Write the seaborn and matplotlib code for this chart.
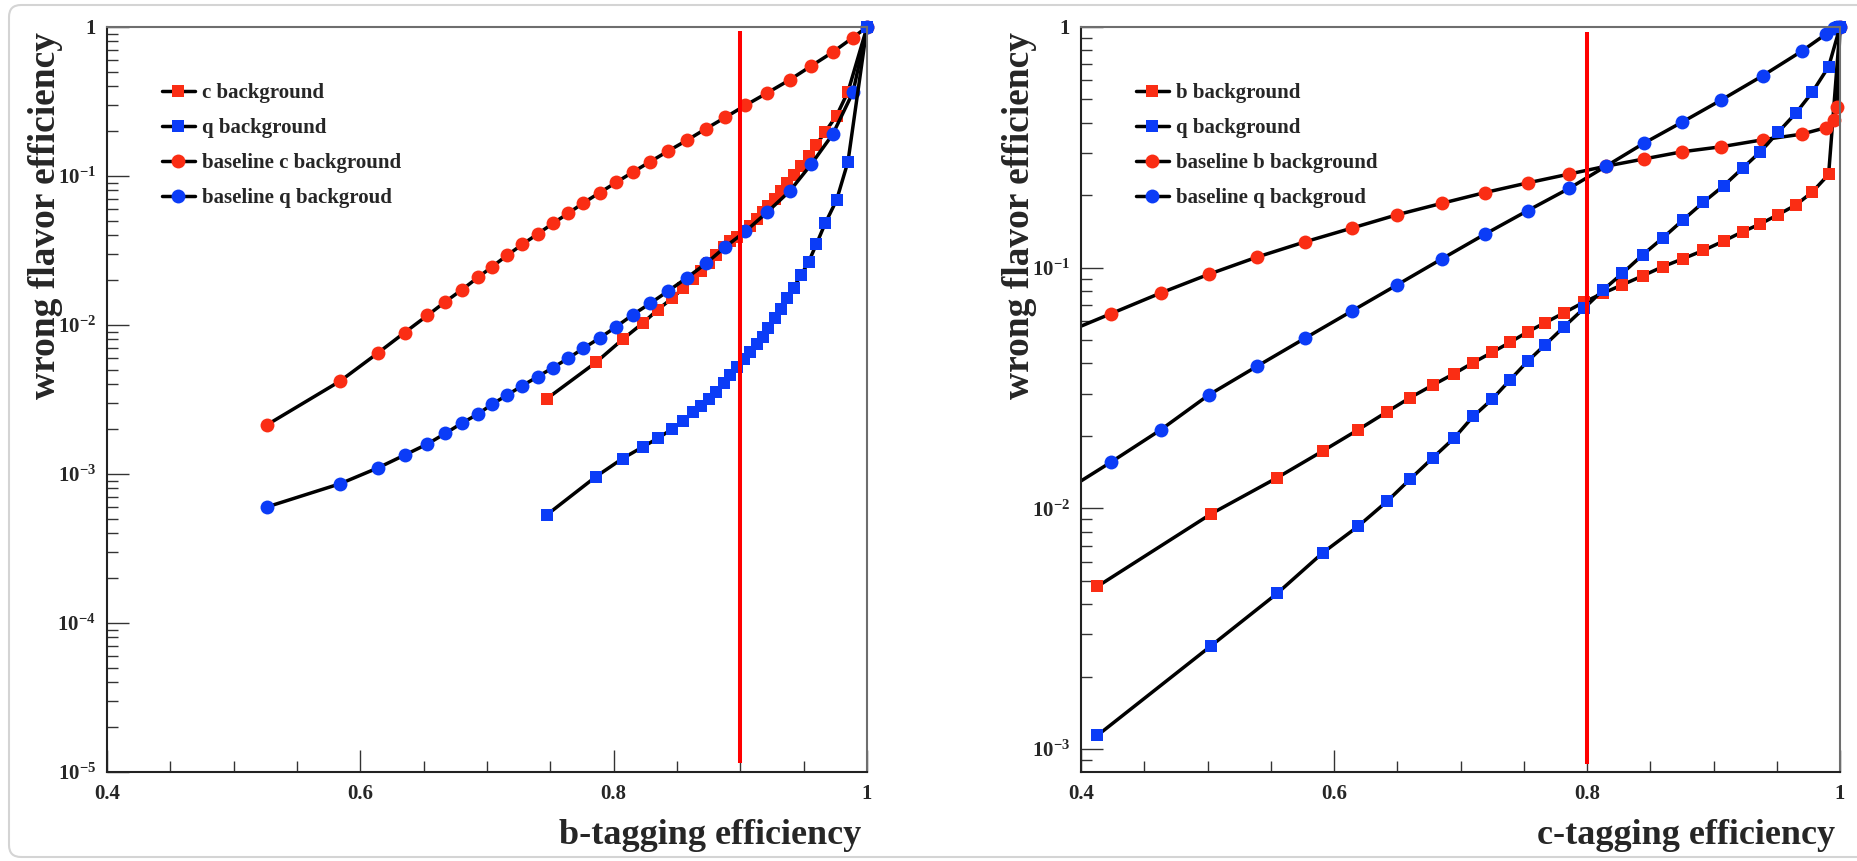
import matplotlib
matplotlib.use("Agg")
import matplotlib.pyplot as plt
import seaborn as sns
from matplotlib.ticker import FixedLocator, FixedFormatter, NullFormatter, MultipleLocator, LogLocator
from matplotlib.patches import FancyBboxPatch, Rectangle
from matplotlib.transforms import IdentityTransform

# ---------------- data: left panel (b-tagging) ----------------
b_eff_new = [0.747, 0.786, 0.807, 0.823, 0.835, 0.846, 0.855, 0.863, 0.869, 0.875,
             0.881, 0.887, 0.892, 0.897, 0.903, 0.908, 0.913, 0.918, 0.922, 0.927,
             0.932, 0.937, 0.942, 0.948, 0.954, 0.960, 0.967, 0.976, 0.985, 1.0]
c_bkg_new = [0.00319, 0.00561, 0.0080, 0.0103, 0.0127, 0.0151, 0.0177, 0.0205, 0.0232, 0.0262,
             0.0297, 0.0333, 0.0365, 0.0390, 0.0425, 0.0465, 0.0515, 0.0570, 0.0625, 0.0700,
             0.0795, 0.0893, 0.101, 0.117, 0.137, 0.162, 0.198, 0.254, 0.368, 1.0]
q_bkg_new_b = [0.00053, 0.00096, 0.00127, 0.00152, 0.00174, 0.00200, 0.00228, 0.00259, 0.00288, 0.00317,
               0.00356, 0.00406, 0.00462, 0.00525, 0.00589, 0.00662, 0.00745, 0.00835, 0.0096, 0.0111,
               0.0129, 0.0151, 0.0178, 0.0217, 0.0266, 0.0348, 0.0481, 0.069, 0.125, 1.0]

b_eff_base = [0.526, 0.584, 0.614, 0.635, 0.653, 0.667, 0.680, 0.693, 0.704, 0.716,
              0.728, 0.740, 0.752, 0.764, 0.776, 0.789, 0.802, 0.815, 0.829, 0.843,
              0.858, 0.873, 0.888, 0.904, 0.921, 0.939, 0.956, 0.973, 0.989, 1.0]
c_bkg_base = [0.00213, 0.0042, 0.0065, 0.0089, 0.0116, 0.0143, 0.0172, 0.0209, 0.0246, 0.0294,
              0.0348, 0.0408, 0.0481, 0.0561, 0.0659, 0.0773, 0.0906, 0.106, 0.125, 0.147,
              0.174, 0.208, 0.247, 0.298, 0.360, 0.442, 0.548, 0.678, 0.850, 1.0]
q_bkg_base_b = [0.00060, 0.00086, 0.00110, 0.00134, 0.00159, 0.00187, 0.00219, 0.00253, 0.00294, 0.00339,
                0.00392, 0.00450, 0.00517, 0.00597, 0.00697, 0.00818, 0.00974, 0.0117, 0.0140, 0.0169,
                0.0208, 0.0259, 0.0334, 0.0425, 0.0570, 0.0792, 0.120, 0.191, 0.366, 1.0]

# ---------------- data: right panel (c-tagging) ----------------
c_eff_new = [0.413, 0.503, 0.555, 0.591, 0.619, 0.642, 0.660, 0.678, 0.695, 0.710,
             0.725, 0.739, 0.753, 0.767, 0.782, 0.798, 0.813, 0.828, 0.844, 0.860,
             0.876, 0.892, 0.908, 0.923, 0.937, 0.951, 0.965, 0.978, 0.991, 1.0]
b_bkg_new = [0.00474, 0.0095, 0.0134, 0.0173, 0.0212, 0.0252, 0.0288, 0.0325, 0.0363, 0.0403,
             0.0445, 0.0489, 0.0541, 0.0591, 0.0650, 0.0721, 0.0785, 0.0849, 0.0925, 0.101,
             0.109, 0.118, 0.129, 0.141, 0.152, 0.166, 0.182, 0.206, 0.244, 1.0]
q_bkg_new_c = [0.00114, 0.00269, 0.00443, 0.00653, 0.00842, 0.0107, 0.0132, 0.0162, 0.0196, 0.0241,
               0.0284, 0.0341, 0.0408, 0.0479, 0.0569, 0.0681, 0.0810, 0.0948, 0.113, 0.133,
               0.158, 0.187, 0.219, 0.259, 0.303, 0.365, 0.438, 0.535, 0.684, 1.0]

c_eff_base = [0.385, 0.424, 0.463, 0.501, 0.539, 0.577, 0.614, 0.650, 0.685, 0.719, 0.753,
              0.786, 0.815, 0.845, 0.875, 0.906, 0.939, 0.970, 0.989, 0.995, 0.9976, 1.0]
b_bkg_base = [0.053, 0.0645, 0.0785, 0.0939, 0.1106, 0.128, 0.146, 0.166, 0.185, 0.205, 0.225,
              0.245, 0.264, 0.283, 0.303, 0.318, 0.340, 0.359, 0.382, 0.411, 0.467, 1.0]
q_bkg_base_c = [0.0116, 0.0156, 0.0212, 0.0296, 0.0389, 0.0509, 0.0660, 0.0849, 0.1086, 0.1375, 0.1725,
                0.2137, 0.264, 0.329, 0.402, 0.497, 0.628, 0.795, 0.935, 0.99, 1.0, 1.0]

# working points (vertical red lines)
b_cut = 0.9
b_cut_span = [1.15e-5, 0.94]
c_cut = 0.8
c_cut_span = [8.7e-4, 0.95]

# axes / ticks / labels
x_range = [0.4, 1.0]
x_ticks = [0.4, 0.6, 0.8, 1.0]
x_tick_labels = ["0.4", "0.6", "0.8", "1"]
y_range_left = [1e-5, 1.0]
y_ticks_left = [1e-5, 1e-4, 1e-3, 1e-2, 1e-1, 1.0]
y_tick_labels_left = [r"$\mathbf{10^{-5}}$", r"$\mathbf{10^{-4}}$", r"$\mathbf{10^{-3}}$",
                      r"$\mathbf{10^{-2}}$", r"$\mathbf{10^{-1}}$", "1"]
y_range_right = [8.03e-4, 1.0]
y_ticks_right = [1e-3, 1e-2, 1e-1, 1.0]
y_tick_labels_right = [r"$\mathbf{10^{-3}}$", r"$\mathbf{10^{-2}}$", r"$\mathbf{10^{-1}}$", "1"]

y_title = "wrong flavor efficiency"
x_title_left = "b-tagging efficiency"
x_title_right = "c-tagging efficiency"
labels_left = ["c background", "q background", "baseline c background", "baseline q backgroud"]
labels_right = ["b background", "q background", "baseline b background", "baseline q backgroud"]

RED = "#fa2d14"
BLUE = "#0b3cf7"

# ---------------- style ----------------
sns.set_style("ticks")
plt.rcParams["font.family"] = ["Liberation Serif", "DejaVu Serif"]
plt.rcParams["font.weight"] = "bold"
plt.rcParams["mathtext.fontset"] = "custom"
plt.rcParams["mathtext.rm"] = "Liberation Serif:bold"
plt.rcParams["mathtext.bf"] = "Liberation Serif:bold"
plt.rcParams["mathtext.it"] = "Liberation Serif:bold:italic"

W, H = 1857, 861
fig = plt.figure(figsize=(W / 100, H / 100), dpi=100)
fig.patch.set_facecolor("white")

ax_l = fig.add_axes([107 / W, 1 - 772 / H, 760 / W, 745 / H])
ax_r = fig.add_axes([1081 / W, 1 - 772 / H, 759 / W, 745 / H])


def curve(ax, x, y, marker, color, label, ms):
    sns.lineplot(x=x, y=y, ax=ax, color="black", lw=2.5, marker=marker, markersize=ms,
                 markerfacecolor=color, markeredgecolor=color, markeredgewidth=0,
                 label=label, estimator=None, sort=False, legend=False)
    line = ax.lines[-1]
    clip = Rectangle((0, -0.2), 1.2, 1.4, transform=ax.transAxes, fill=False, visible=False)
    line.set_clip_path(clip)
    return line


def panel(ax, series, labels, cut, cut_span, yrange, yticks, yticklabels, xtitle):
    ax.set_yscale("log")
    # drawing order: new-tagger c/b background, baselines, then q background on top
    draw_order = [0, 2, 3, 1]
    handles = [None] * len(series)
    for i in draw_order:
        x, y, m, c, ms = series[i]
        handles[i] = curve(ax, x, y, m, c, labels[i], ms)
    ax.vlines(cut, cut_span[0], cut_span[1], colors="#ff0000", lw=2.9, zorder=5)

    ax.set_xlim(*x_range)
    ax.set_ylim(*yrange)

    ax.xaxis.set_major_locator(FixedLocator(x_ticks))
    ax.xaxis.set_major_formatter(FixedFormatter(x_tick_labels))
    ax.xaxis.set_minor_locator(MultipleLocator(0.05))
    ax.yaxis.set_major_locator(FixedLocator(yticks))
    ax.yaxis.set_major_formatter(FixedFormatter(yticklabels))
    ax.yaxis.set_minor_locator(LogLocator(base=10, subs=[2, 3, 4, 5, 6, 7, 8, 9], numticks=20))
    ax.yaxis.set_minor_formatter(NullFormatter())

    ax.tick_params(axis="both", which="both", direction="in", top=False, right=False,
                   color="#333333", width=1.0)
    ax.tick_params(axis="both", which="major", length=16, labelsize=15)
    ax.tick_params(axis="both", which="minor", length=8)
    ax.tick_params(axis="x", which="major", pad=8.6)
    ax.tick_params(axis="y", which="major", pad=8)
    for lab in ax.get_xticklabels() + ax.get_yticklabels():
        lab.set_fontweight("bold")

    for side in ["left", "bottom"]:
        ax.spines[side].set_color("#222222")
        ax.spines[side].set_linewidth(1.5)
    for side in ["top", "right"]:
        ax.spines[side].set_color("#6e6e6e")
        ax.spines[side].set_linewidth(1.5)

    ax.set_ylabel(y_title, fontsize=27, fontweight="bold", loc="top")
    ax.yaxis.set_label_coords(-0.058, 0.993)
    ax.set_xlabel(xtitle, fontsize=26, fontweight="bold", loc="right")
    ax.xaxis.set_label_coords(0.993, -0.063)

    ax.legend(handles=handles, labels=labels, loc="upper left", bbox_to_anchor=(0.072, 0.925),
              frameon=False, prop={"family": "Liberation Serif", "weight": "bold", "size": 15},
              handlelength=1.6, handletextpad=0.35, labelspacing=0.72, borderpad=0,
              borderaxespad=0)


panel(ax_l,
      [(b_eff_new, c_bkg_new, "s", RED, 9.2),
       (b_eff_new, q_bkg_new_b, "s", BLUE, 9.2),
       (b_eff_base, c_bkg_base, "o", RED, 10),
       (b_eff_base, q_bkg_base_b, "o", BLUE, 10)],
      labels_left, b_cut, b_cut_span, y_range_left, y_ticks_left, y_tick_labels_left, x_title_left)

panel(ax_r,
      [(c_eff_new, b_bkg_new, "s", RED, 9.2),
       (c_eff_new, q_bkg_new_c, "s", BLUE, 9.2),
       (c_eff_base, b_bkg_base, "o", RED, 10),
       (c_eff_base, q_bkg_base_c, "o", BLUE, 10)],
      labels_right, c_cut, c_cut_span, y_range_right, y_ticks_right, y_tick_labels_right, x_title_right)

# light screenshot frame
frame = FancyBboxPatch((9, 4), 1900, 852, boxstyle="round,pad=0,rounding_size=12",
                       transform=IdentityTransform(), fill=False, edgecolor="#d4d4d4", lw=1.5)
fig.add_artist(frame)

fig.savefig("out.png", dpi=100)
